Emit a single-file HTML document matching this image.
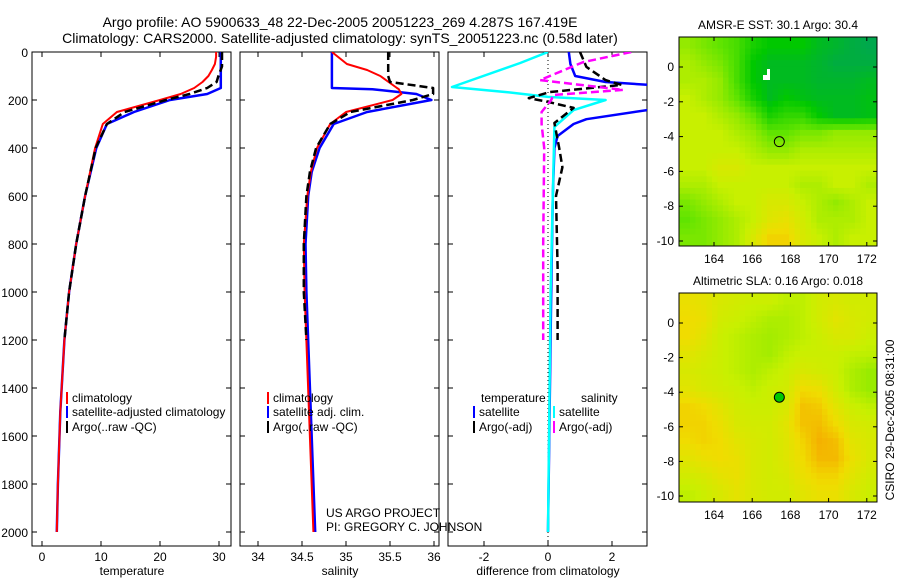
<!DOCTYPE html>
<html><head><meta charset="utf-8"><style>
body{margin:0;background:#fff;}
svg{display:block;font-family:"Liberation Sans",sans-serif;}
</style></head><body>
<svg id="fig" width="900" height="580" viewBox="0 0 900 580">
<defs>
<clipPath id="c1"><rect x="32" y="52" width="199" height="494"/></clipPath>
<clipPath id="c2"><rect x="240" y="52" width="199" height="494"/></clipPath>
<clipPath id="c3"><rect x="448" y="52" width="199" height="494"/></clipPath>
<clipPath id="legclip"><rect x="0" y="0" width="238" height="580"/></clipPath>
</defs>
<text x="340" y="27" font-size="14" text-anchor="middle">Argo profile: AO 5900633_48 22-Dec-2005 20051223_269 4.287S 167.419E</text>
<text x="340" y="43" font-size="14" text-anchor="middle">Climatology: CARS2000. Satellite-adjusted climatology: synTS_20051223.nc (0.58d later)</text>
<text x="778" y="29" font-size="12" text-anchor="middle">AMSR-E SST: 30.1 Argo: 30.4</text>
<text x="778" y="285" font-size="12" text-anchor="middle">Altimetric SLA: 0.16 Argo: 0.018</text>
<text transform="translate(894,420) rotate(-90)" font-size="12" text-anchor="middle">CSIRO 29-Dec-2005 08:31:00</text>
<text x="326" y="517" font-size="12">US ARGO PROJECT</text>
<text x="326" y="531" font-size="12">PI: GREGORY C. JOHNSON</text>
<g id="g"></g>
</svg>
<script>
// ---- depth grids ----
const depthT = [0,20,50,75,100,125,150,175,200,250,300,400,600,800,1000,1200,1500,1800,2000];
const climT  = [29.5,29.5,29.3,28.8,28.2,27.2,25.8,23.5,20,12.7,10.3,9,7.3,5.8,4.6,3.8,3.1,2.7,2.5];
const satT   = [30.3,30.3,30.3,30.3,30.3,30.3,30.3,28,21.7,15.6,11,9.2,7.3,5.8,4.6,3.8,3.1,2.7,2.5];
const depthArgoT = [0,20,60,100,125,150,175,200,250,300,400,600,800,1000,1200];
const argoT = [30.5,30.5,30.5,29.9,29.6,28,25,21,14,11,9.1,7.3,5.8,4.6,3.8];
const depthS = [0,50,75,100,150,155,175,200,250,300,400,500,600,800,1000,1500,2000];
const climS  = [34.84,35.01,35.24,35.39,35.58,35.6,35.63,35.53,35.0,34.82,34.67,34.6,34.56,34.52,34.53,34.58,34.63];
const satS   = [34.84,34.84,34.84,34.84,34.84,35.3,35.8,35.97,35.24,34.86,34.7,34.61,34.57,34.54,34.55,34.6,34.65];
const depthArgoS = [0,50,100,125,150,175,200,250,300,400,500,600,800,1000,1200];
const argoS = [35.48,35.48,35.48,35.5,35.99,35.99,35.76,35.05,34.82,34.66,34.59,34.55,34.52,34.52,34.55];
const depthDT = [0,50,100,125,140,200,240,280,300,350,400,600,1000,2000];
const satDT   = [0.65,0.7,0.85,1.8,3.5,3.5,3.2,1.2,0.8,0.3,0.2,0.15,0.1,0];
const depthDS = [0,46,146,167,187,200,242,312,600,1000,2000];
const satDS   = [0,-0.87,-3,-1.3,0,1.8,0.8,0.2,0.15,0.08,0];
const depthAD = [0,62,117,137,167,192,208,233,296,400,480,600,900,1200];
const argoDT  = [1.0,1.2,1.8,2.3,0.05,-0.6,0,0.8,0.2,0.35,0.45,0.25,0.3,0.3];
const depthAS = [0,42,117,158,179,200,250,300,400,800,1200];
const argoDS  = [2.6,1.1,-0.25,2.35,0.17,0.1,-0.2,-0.2,-0.12,-0.15,-0.15];
const depthTicks = [0,200,400,600,800,1000,1200,1400,1600,1800,2000];
const tTicks = [0,10,20,30];
const sTicks = [34,34.5,35,35.5,36];
const dTicks = [-2,0,2];
const latTicks = [0,-2,-4,-6,-8,-10];
const lonTicks = [164,166,168,170,172];
// map grids (0=teal/green ... 1=orange), rows north->south
const sstGrid = [
[.45,.4,.35,.3,.2,.15,.15,.15,.1,.08,.05,.03],
[.5,.45,.4,.3,.15,.1,.1,.1,.08,.05,.05,.05],
[.5,.5,.45,.3,.15,.1,.1,.1,.08,.08,.08,.1],
[.55,.5,.45,.35,.2,.1,.15,.12,.1,.1,.1,.12],
[.55,.55,.5,.45,.35,.2,.25,.25,.15,.1,.1,.12],
[.55,.55,.55,.5,.45,.35,.35,.4,.4,.45,.45,.45],
[.55,.55,.55,.55,.5,.45,.45,.5,.5,.5,.5,.5],
[.55,.55,.6,.6,.55,.55,.55,.55,.55,.55,.55,.55],
[.5,.5,.55,.55,.55,.55,.55,.5,.5,.55,.55,.5],
[.4,.45,.5,.55,.55,.6,.6,.55,.5,.45,.5,.55],
[.35,.4,.45,.5,.55,.62,.65,.58,.5,.5,.5,.55],
[.4,.4,.45,.5,.6,.7,.7,.6,.55,.5,.55,.55]];
const slaGrid = [
[.66,.64,.6,.58,.56,.56,.53,.53,.58,.6,.58,.58],
[.68,.66,.58,.56,.53,.5,.5,.53,.58,.63,.6,.58],
[.68,.63,.56,.53,.5,.48,.5,.53,.56,.6,.6,.56],
[.63,.6,.56,.53,.5,.48,.53,.56,.56,.56,.54,.53],
[.6,.58,.56,.53,.5,.53,.56,.6,.58,.56,.5,.46],
[.63,.6,.58,.56,.53,.56,.58,.68,.66,.58,.5,.46],
[.7,.68,.63,.58,.56,.56,.6,.74,.72,.63,.56,.53],
[.7,.7,.66,.6,.58,.58,.63,.74,.75,.68,.6,.58],
[.68,.7,.68,.63,.6,.58,.62,.7,.78,.75,.63,.6],
[.63,.66,.68,.66,.6,.58,.62,.68,.76,.76,.66,.6],
[.58,.6,.64,.66,.6,.58,.6,.66,.7,.7,.63,.58],
[.53,.56,.6,.64,.6,.58,.58,.63,.66,.66,.6,.56]];
const floatLon = 167.42, floatLat = -4.29;

const NS='http://www.w3.org/2000/svg';
const G=document.getElementById('g');
function mk(tag,attrs,parent){const e=document.createElementNS(NS,tag);for(const k in attrs)e.setAttribute(k,attrs[k]);(parent||G).appendChild(e);return e;}
const yD = d => 52 + d*0.24;
const panels = [
 {x0:32, ticks:tTicks, xs:v=>42+(v-0)*5.9, label:'temperature', name:'temperature'},
 {x0:240, ticks:sTicks, xs:v=>258+(v-34)*88, label:'salinity', name:'salinity'},
 {x0:448, ticks:dTicks, xs:v=>548+v*32, label:'difference from climatology', name:'difference'}
];
panels.forEach((p,i)=>{
  const box=mk('rect',{x:p.x0,y:52,width:199,height:494,fill:'none',stroke:'#000','stroke-width':1});
  
  
  p.ticks.forEach(t=>{
    const x=p.xs(t);
    mk('line',{x1:x,y1:52,x2:x,y2:57,stroke:'#000'});
    mk('line',{x1:x,y1:546,x2:x,y2:541,stroke:'#000'});
    const tx=mk('text',{x:x,y:561,'font-size':12,'text-anchor':'middle'});
    tx.textContent=String(t);
    
    
  });
  depthTicks.forEach(d=>{
    mk('line',{x1:p.x0,y1:yD(d),x2:p.x0+5,y2:yD(d),stroke:'#000'});
    mk('line',{x1:p.x0+199,y1:yD(d),x2:p.x0+194,y2:yD(d),stroke:'#000'});
  });
  const xl=mk('text',{x:p.x0+100,y:575,'font-size':12,'text-anchor':'middle'});
  xl.textContent=p.label;
  
  
});
depthTicks.forEach(d=>{
  const t=mk('text',{x:28,y:yD(d)+5,'font-size':12,'text-anchor':'end'});
  t.textContent=String(d);
  
  
});
function line(depths,vals,xs,clip,color,w,dash,name){
  const pts=depths.map((d,i)=>xs(vals[i]).toFixed(1)+','+yD(d).toFixed(1)).join(' ');
  const a={points:pts,fill:'none',stroke:color,'stroke-width':w,'clip-path':'url(#'+clip+')','stroke-linejoin':'round'};
  if(dash)a['stroke-dasharray']=dash;
  const e=mk('polyline',a);
  
  
}
const P=panels;
line(depthT,satT,P[0].xs,'c1','#0000ff',2.5,null,'temp-satellite-line');
line(depthT,climT,P[0].xs,'c1','#ff0000',2,null,'temp-climatology-line');
line(depthArgoT,argoT,P[0].xs,'c1','#000',2.5,'8,4','temp-argo-line');
line(depthS,satS,P[1].xs,'c2','#0000ff',2.5,null,'sal-satellite-line');
line(depthS,climS,P[1].xs,'c2','#ff0000',2,null,'sal-climatology-line');
line(depthArgoS,argoS,P[1].xs,'c2','#000',2.5,'8,4','sal-argo-line');
mk('line',{x1:548,y1:52,x2:548,y2:546,stroke:'#000','stroke-width':1,'stroke-dasharray':'1,3'});
line(depthDT,satDT,P[2].xs,'c3','#0000ff',2.5,null,'diff-temp-satellite-line');
line(depthDS,satDS,P[2].xs,'c3','#00ffff',2.5,null,'diff-sal-satellite-line');
line(depthAD,argoDT,P[2].xs,'c3','#000',2.5,'8,4','diff-temp-argo-line');
line(depthAS,argoDS,P[2].xs,'c3','#ff00ff',2.5,'8,4','diff-sal-argo-line');
// legends
function leg(x,y,color,label,name,clip){
  mk('rect',{x:x,y:y-10,width:2,height:12,fill:color});
  const a={x:x+6,y:y,'font-size':12};
  if(clip)a['clip-path']='url(#'+clip+')';
  const t=mk('text',a);
  t.textContent=label;
  
  
}
leg(66,402,'#ff0000','climatology','legend-temp-climatology');
leg(66,416,'#0000ff','satellite-adjusted climatology','legend-temp-satellite','legclip');
leg(66,431,'#000','Argo(..raw -QC)','legend-temp-argo');
leg(267,402,'#ff0000','climatology','legend-sal-climatology');
leg(267,416,'#0000ff','satellite adj. clim.','legend-sal-satellite');
leg(267,431,'#000','Argo(..raw -QC)','legend-sal-argo');
const th=mk('text',{x:481,y:402,'font-size':12});th.textContent='temperature';


const sh=mk('text',{x:581,y:402,'font-size':12});sh.textContent='salinity';


leg(473,416,'#0000ff','satellite','legend-diff-temp-satellite');
leg(473,431,'#000','Argo(-adj)','legend-diff-temp-argo');
leg(553,416,'#00ffff','satellite','legend-diff-sal-satellite');
leg(553,431,'#ff00ff','Argo(-adj)','legend-diff-sal-argo');
// maps
const stops=[[0,[0,160,96]],[0.15,[0,200,0]],[0.35,[96,228,0]],[0.55,[200,240,0]],[0.68,[240,220,0]],[0.8,[245,168,0]],[1,[230,90,0]]];
function cmap(v){for(let i=1;i<stops.length;i++){if(v<=stops[i][0]){const a=stops[i-1],b=stops[i];const f=(v-a[0])/(b[0]-a[0]);const c=a[1].map((q,k)=>Math.round(q+(b[1][k]-q)*f));return 'rgb('+c.join(',')+')';}}return 'rgb(230,90,0)';}
function sample(grid,fr,fc){
  const rows=grid.length,cols=grid[0].length;
  const r=Math.max(0,Math.min(rows-1,fr)),c=Math.max(0,Math.min(cols-1,fc));
  const r0=Math.floor(r),c0=Math.floor(c),r1=Math.min(rows-1,r0+1),c1=Math.min(cols-1,c0+1);
  const a=r-r0,b=c-c0;
  return grid[r0][c0]*(1-a)*(1-b)+grid[r0][c1]*(1-a)*b+grid[r1][c0]*a*(1-b)+grid[r1][c1]*a*b;
}
function drawMap(top,bottom,lat0y,lat10y,grid,name,filledDot){
  const left=679,right=877;
  const xl=lon=>714+(lon-164)*19.1;
  const yl=lat=>lat0y+(-lat)*(lat10y-lat0y)/10;
  const rows=grid.length,cols=grid[0].length,N=3;
  const R=rows*N,C=cols*N;
  const cw=(right-left)/C,ch=(bottom-top)/R;
  for(let r=0;r<R;r++)for(let c=0;c<C;c++){
    const v=sample(grid,(r+0.5)/N-0.5,(c+0.5)/N-0.5);
    const e=mk('rect',{x:(left+c*cw).toFixed(2),y:(top+r*ch).toFixed(2),width:(cw+0.5).toFixed(2),height:(ch+0.5).toFixed(2),fill:cmap(v)});
    
    
  }
  const f=mk('rect',{x:left,y:top,width:right-left,height:bottom-top,fill:'none',stroke:'#000'});
  
  
  latTicks.forEach(l=>{const y=yl(l);
    mk('line',{x1:left,y1:y,x2:left+4,y2:y,stroke:'#000'});
    mk('line',{x1:right,y1:y,x2:right-4,y2:y,stroke:'#000'});
    const t=mk('text',{x:left-5,y:y+4,'font-size':12,'text-anchor':'end'});t.textContent=String(l);
    
    });
  lonTicks.forEach(l=>{const x=xl(l);
    mk('line',{x1:x,y1:top,x2:x,y2:top+4,stroke:'#000'});
    mk('line',{x1:x,y1:bottom,x2:x,y2:bottom-4,stroke:'#000'});
    const t=mk('text',{x:x,y:bottom+17,'font-size':12,'text-anchor':'middle'});t.textContent=String(l);
    
    });
  const c=mk('circle',{cx:xl(floatLon),cy:yl(floatLat),r:5,fill:filledDot?'#00c800':'none',stroke:'#000','stroke-width':1});
  
  
}
drawMap(37,246,67,241,sstGrid,'sst-map',false);
mk('rect',{x:763,y:75,width:7,height:5,fill:'#fff'});
mk('rect',{x:767,y:69,width:3,height:7,fill:'#fff'});
drawMap(293,502,323,496,slaGrid,'sla-map',true);
</script>
</body></html>
